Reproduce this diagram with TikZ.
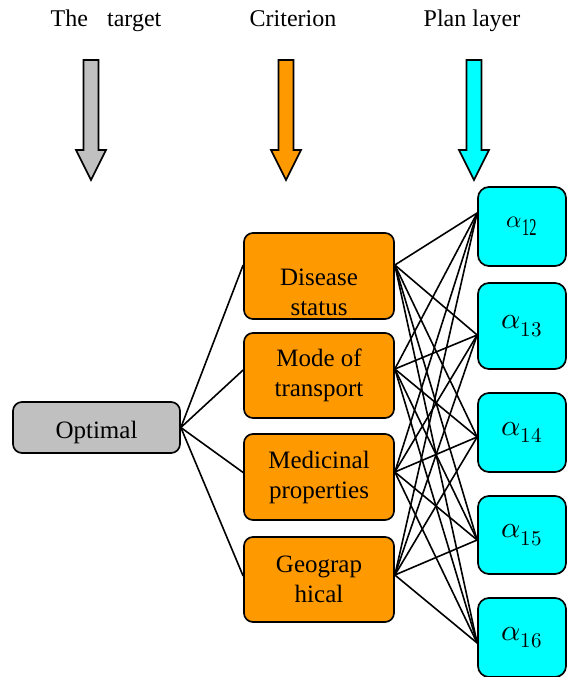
\documentclass[tikz,border=0pt]{standalone}
\usepackage{fontspec}
\usepackage{unicode-math}
\setmathfont{Latin Modern Math}
\setmainfont{Liberation Serif}
\usepackage{graphicx}
\definecolor{goalgray}{HTML}{C0C0C0}
\definecolor{critorange}{HTML}{FF9900}
\definecolor{plancyan}{HTML}{00FFFF}
\tikzset{
  box/.style={draw=black, line width=1.7pt, rounded corners=9pt, inner sep=0pt, align=center},
  goalbox/.style={box, fill=goalgray, minimum width=167pt, minimum height=51pt, font=\rmfamily\fontsize{25}{28}\selectfont},
  critbox/.style={box, fill=critorange, minimum width=150pt, font=\rmfamily\fontsize{25}{30}\selectfont},
  planbox/.style={box, fill=plancyan, rounded corners=11pt, minimum width=88pt, font=\fontsize{30}{34}\selectfont},
  head/.style={anchor=base, font=\rmfamily\fontsize{24}{28}\selectfont},
  link/.style={line width=1.6pt},
}
% hollow block arrow pointing down, centred on x = #1
\newcommand{\colarrow}[2]{%
  \draw[line width=1.6pt, fill=#2, line join=miter]
    (#1-7.5,60) -- (#1+7.5,60) -- (#1+7.5,150) -- (#1+15,150) --
    (#1,180) -- (#1-15,150) -- (#1-7.5,150) -- cycle;}
\begin{document}
\begin{tikzpicture}[x=1pt, y=-1pt]
\useasboundingbox (0,0) rectangle (580,677);

% column headings
\node[head] (h1) at (106,27) {The\hspace{0.8em}target};
\node[head] (h2) at (293,27) {Criterion};
\node[head] (h3) at (472,27) {Plan layer};

% block arrows under the headings
\colarrow{91}{goalgray}
\colarrow{286}{critorange}
\colarrow{474}{plancyan}

% goal
\node[goalbox] (opt) at (96.5,427.5) {};
\node[font=\rmfamily\fontsize{25}{28}\selectfont, anchor=base, inner sep=0pt] (opttext) at (96.5,438) {Optimal};

% criteria
\node[critbox, minimum height=86pt] (dis) at (319,276) {};
\node[font=\rmfamily\fontsize{25}{30}\selectfont, align=center, inner sep=0pt] (distext) at (319,292) {Disease\\status};
\node[critbox, minimum height=85pt] (mode) at (319,375.5) {Mode of\\transport};
\node[critbox, minimum height=86pt] (med) at (319,477) {Medicinal\\properties};
\node[critbox, minimum height=85pt] (geo) at (319,579.5) {Geograp\\hical};

% plans
\node[planbox, minimum height=79pt] (a12) at (522,226.5)
  {\fontsize{24}{28}\selectfont$\alpha_{\scalebox{0.6}[1]{12}}$};
\node[planbox, minimum height=86pt] (a13) at (522,326) {$\alpha_{13}$};
\node[planbox, minimum height=79pt] (a14) at (522,432.5) {$\alpha_{14}$};
\node[planbox, minimum height=78pt] (a15) at (522,535) {$\alpha_{15}$};
\node[planbox, minimum height=79pt] (a16) at (522,637.5) {$\alpha_{16}$};

% attachment points
\coordinate (o) at (opt.east);
\coordinate (dis-w) at ([yshift=11pt]dis.west);
\coordinate (mode-w) at ([yshift=5.5pt]mode.west);
\coordinate (med-w) at ([yshift=4.5pt]med.west);
\coordinate (geo-w) at ([yshift=3.5pt]geo.west);
\coordinate (dis-e) at ([yshift=11pt]dis.east);
\coordinate (mode-e) at ([yshift=6.5pt]mode.east);
\coordinate (med-e) at ([yshift=5pt]med.east);
\coordinate (geo-e) at ([yshift=4.5pt]geo.east);
\coordinate (a12-w) at ([yshift=13.5pt]a12.west);
\coordinate (a13-w) at ([yshift=-9pt]a13.west);
\coordinate (a14-w) at ([yshift=-4.5pt]a14.west);
\coordinate (a15-w) at ([yshift=-5pt]a15.west);
\coordinate (a16-w) at ([yshift=-5.5pt]a16.west);

% goal to criteria
\foreach \c in {dis,mode,med,geo}
  \draw[link] (o) -- (\c-w);

% criteria to plans
\foreach \c in {dis,mode,med,geo}
  \foreach \p in {a12,a13,a14,a15,a16}
    \draw[link] (\c-e) -- (\p-w);
\end{tikzpicture}
\end{document}
